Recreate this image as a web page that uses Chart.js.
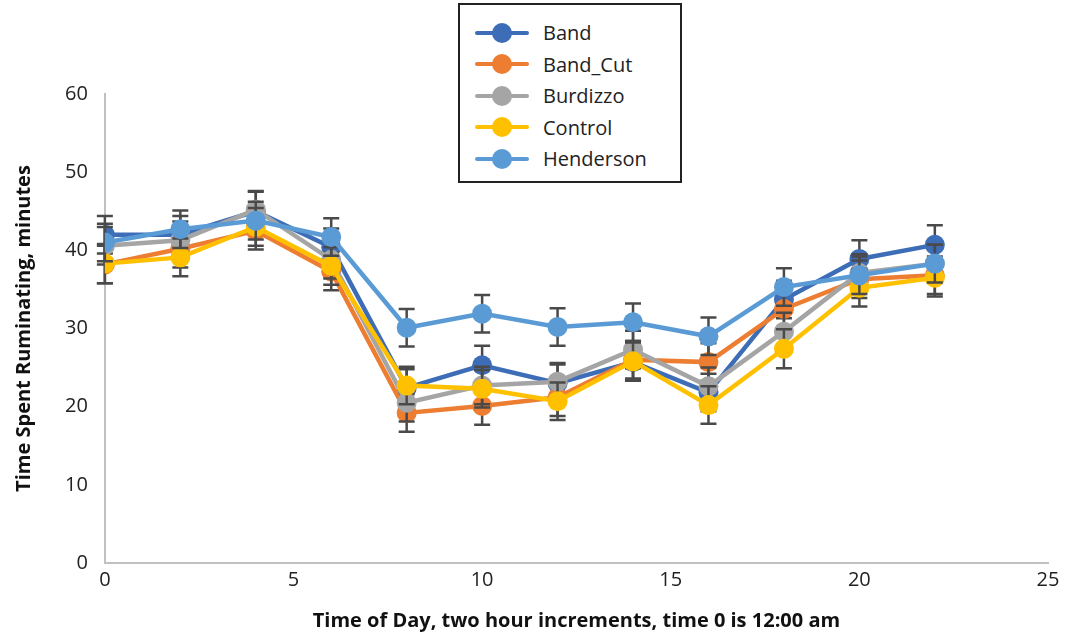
<!DOCTYPE html>
<html>
<head>
<meta charset="utf-8">
<script src="https://cdn.jsdelivr.net/npm/chart.js@4"></script>
<style>
  body { margin: 0; background: #fff; font-family: "Open Sans", "Noto Sans", sans-serif; }
  #wrap { position: relative; width: 1065px; height: 637px; }
  #legend {
    position: absolute; left: 458px; top: 3px; width: 224px; height: 180px;
    border: 2px solid #222; background: #fff; box-sizing: border-box;
    padding-top: 12px;
  }
  .item { height: 31.5px; display: flex; align-items: center; font-size: 20px; color: #222; }
  .sym { position: relative; width: 54px; height: 20px; margin-left: 15px; margin-right: 14px; }
  .sym .ln { position: absolute; left: 0; top: 8px; width: 54px; height: 4px; border-radius: 2px; }
  .sym .dot { position: absolute; left: 17px; top: 0px; width: 20px; height: 20px; border-radius: 50%; }
</style>
</head>
<body>
<div id="wrap">
  <canvas id="ruminChart" width="1065" height="637"></canvas>
  <div id="legend"></div>
</div>
<script>
/* dades */
const hours = [0, 2, 4, 6, 8, 10, 12, 14, 16, 18, 20, 22]
const seriesNames = ['Band', 'Band_Cut', 'Burdizzo', 'Control', 'Henderson']
const seriesColors = ['#3D6DB7', '#ED7D31', '#A5A5A5', '#FFC000', '#5B9BD5']

const band      = [42.0, 42.0, 45.0, 40.4, 22.4, 25.3, 23.0, 25.7, 21.8, 33.7, 38.9, 40.7]
const bandCut   = [38.2, 40.2, 42.5, 37.3, 19.2, 20.1, 21.2, 26.0, 25.7, 32.5, 36.3, 36.8]
const burdizzo  = [40.6, 41.3, 45.2, 38.8, 20.5, 22.7, 23.2, 27.3, 22.6, 29.6, 37.1, 38.3]
const control   = [38.3, 39.1, 43.0, 38.0, 22.7, 22.3, 20.7, 25.8, 20.2, 27.4, 35.2, 36.5]
const henderson = [41.0, 42.7, 43.8, 41.7, 30.1, 31.9, 30.2, 30.8, 29.0, 35.3, 36.8, 38.3]

/* error (+/-) */
const bandErr      = [2.4, 2.4, 2.5, 2.4, 2.4, 2.5, 2.4, 2.4, 2.4, 2.4, 2.4, 2.5]
const bandCutErr   = [2.4, 2.4, 2.4, 2.4, 2.4, 2.4, 2.4, 2.4, 2.4, 2.4, 2.4, 2.4]
const burdizzoErr  = [2.4, 2.4, 2.4, 2.4, 2.4, 2.4, 2.4, 2.4, 2.4, 2.4, 2.4, 2.4]
const controlErr   = [2.5, 2.4, 2.4, 2.4, 2.4, 2.4, 2.4, 2.4, 2.4, 2.5, 2.4, 2.4]
const hendersonErr = [2.4, 2.4, 2.4, 2.4, 2.4, 2.4, 2.4, 2.4, 2.4, 2.4, 2.4, 2.4]

const allValues = [band, bandCut, burdizzo, control, henderson]
const allErrors = [bandErr, bandCutErr, burdizzoErr, controlErr, hendersonErr]

const fontFam = '"Open Sans", "Noto Sans", sans-serif'

// barres d'error, dibuixades abans de cada serie
const errorBars = {
    id: 'errorBars',
    beforeDatasetDraw(chart, args) {
        const ctx = chart.ctx
        const x = chart.scales.x, y = chart.scales.y
        const errs = allErrors[args.index]
        const vals = allValues[args.index]
        ctx.save()
        ctx.strokeStyle = '#4a4a4a'
        ctx.lineWidth = 2.5
        hours.forEach((h, i) => {
            const px = x.getPixelForValue(h)
            const top = y.getPixelForValue(vals[i] + errs[i])
            const bot = y.getPixelForValue(vals[i] - errs[i])
            ctx.beginPath()
            ctx.moveTo(px, top); ctx.lineTo(px, bot)
            ctx.moveTo(px - 8, top); ctx.lineTo(px + 8, top)
            ctx.moveTo(px - 8, bot); ctx.lineTo(px + 8, bot)
            ctx.stroke()
        })
        ctx.restore()
    }
}

const datasets = seriesNames.map((name, s) => ({
    label: name,
    data: hours.map((h, i) => ({ x: h, y: allValues[s][i] })),
    borderColor: seriesColors[s],
    backgroundColor: seriesColors[s],
    borderWidth: 4.5,
    pointRadius: 10,
    pointBorderWidth: 0,
    pointHoverRadius: 10,
    order: seriesNames.length - s
}))

new Chart('ruminChart', {
    type: 'line',
    data: { datasets },
    options: {
        responsive: false,
        animation: false,
        layout: { padding: { top: 94, right: 17, left: 8, bottom: 0 } },
        plugins: { legend: { display: false }, tooltip: { enabled: false } },
        scales: {
            x: {
                type: 'linear', min: 0, max: 25,
                ticks: { stepSize: 5, color: '#222', font: { family: fontFam, size: 20 }, padding: 5 },
                grid: { display: false, drawTicks: false },
                border: { color: '#c0c0c0', width: 2 },
                title: { display: true, text: 'Time of Day, two hour increments, time 0 is 12:00 am',
                    color: '#111', font: { family: fontFam, size: 20, weight: 'bold' }, padding: { top: 12 } }
            },
            y: {
                min: 0, max: 60,
                ticks: { stepSize: 10, color: '#222', font: { family: fontFam, size: 20 }, padding: 17 },
                grid: { display: false, drawTicks: false },
                border: { color: '#c0c0c0', width: 2 },
                title: { display: true, text: 'Time Spent Ruminating, minutes',
                    color: '#111', font: { family: fontFam, size: 20, weight: 'bold' }, padding: { bottom: 12 } }
            }
        }
    },
    plugins: [errorBars]
})

// llegenda
const legendBox = document.getElementById('legend')
seriesNames.forEach((name, s) => {
    const item = document.createElement('div')
    item.className = 'item'
    item.innerHTML = '<span class="sym"><span class="ln" style="background:' + seriesColors[s] +
        '"></span><span class="dot" style="background:' + seriesColors[s] + '"></span></span>' + name
    legendBox.appendChild(item)
})
</script>
</body>
</html>
